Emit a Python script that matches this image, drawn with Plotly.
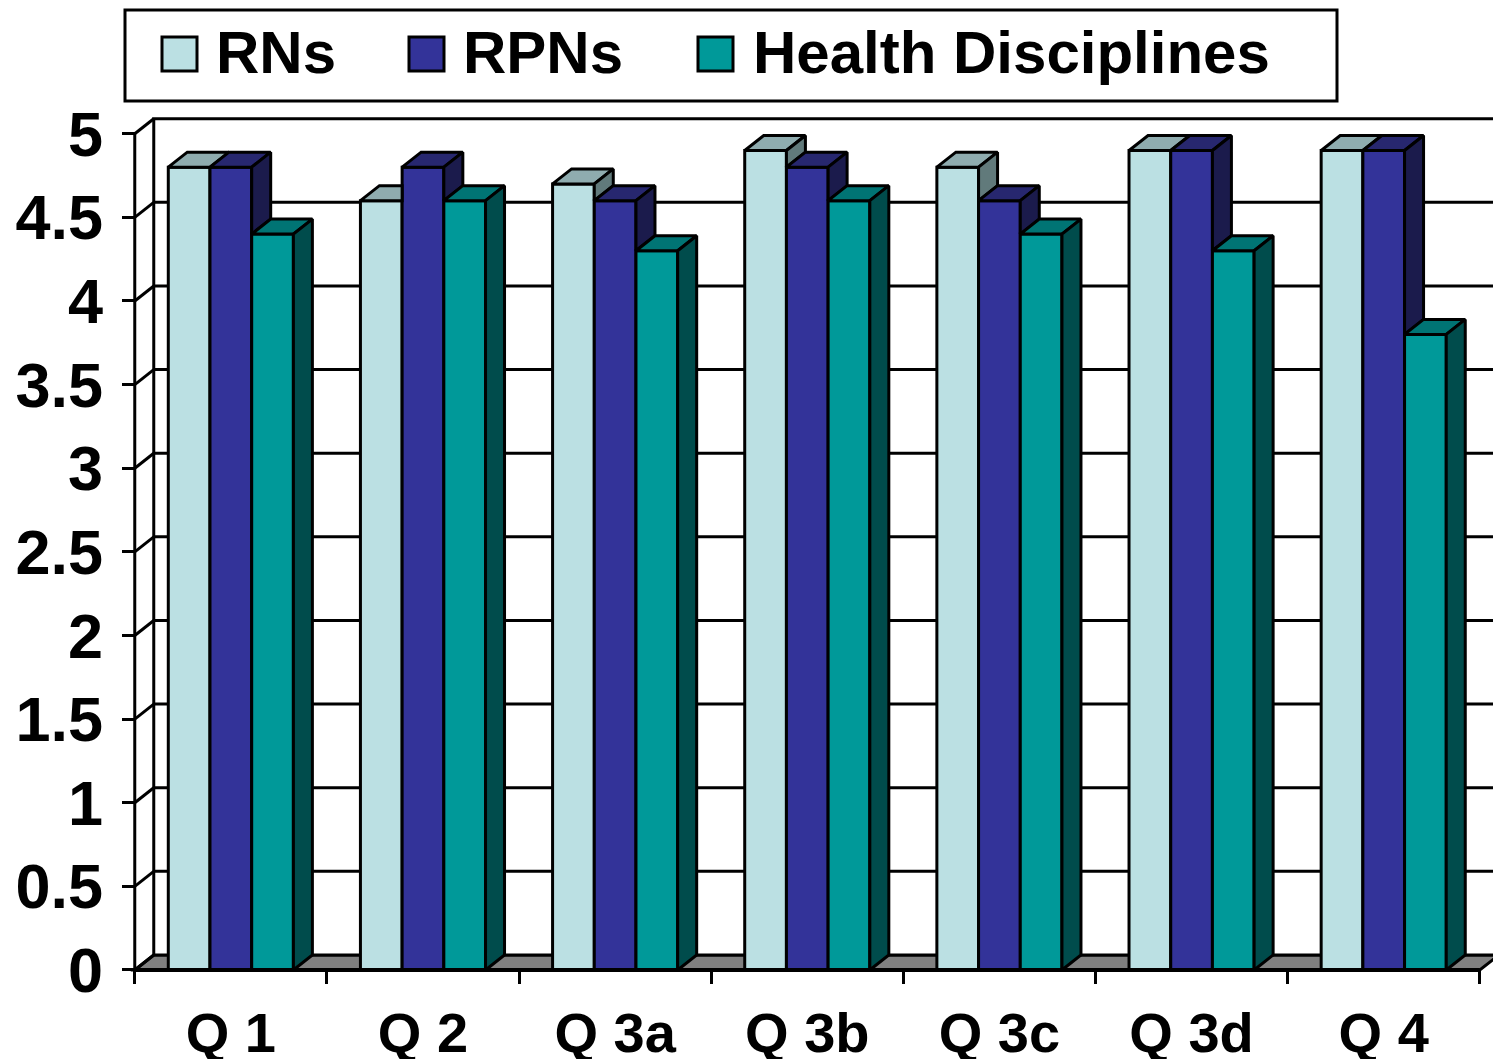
import plotly.graph_objects as go

# ---------------- data ----------------
categories = ["Q 1", "Q 2", "Q 3a", "Q 3b", "Q 3c", "Q 3d", "Q 4"]
series_names = ["RNs", "RPNs", "Health Disciplines"]
rns = [4.8, 4.6, 4.7, 4.9, 4.8, 4.9, 4.9]
rpns = [4.8, 4.8, 4.6, 4.8, 4.6, 4.9, 4.9]
health = [4.4, 4.6, 4.3, 4.6, 4.4, 4.3, 3.8]
y_ticks = [0, 0.5, 1, 1.5, 2, 2.5, 3, 3.5, 4, 4.5, 5]
y_tick_labels = ["0", "0.5", "1", "1.5", "2", "2.5", "3", "3.5", "4", "4.5", "5"]

# ---------------- styles ----------------
front_colors = ["#BBE0E3", "#333399", "#009999"]
top_colors = ["#8FACAF", "#27276F", "#007474"]
side_colors = ["#617A7B", "#1B1B4C", "#004C4C"]
FONT = "Liberation Sans, Arial, sans-serif"
LW = 3

OFF = 8  # page body margin
W, H = 1501 - OFF, 1059 - OFF
X_MIN, X_MAX = -0.03, 7.1
Y_MIN, Y_MAX = -0.03, 5.1
M_L, M_R, M_T, M_B = 121, 2, 109, 84
PW = W - M_L - M_R
PH = H - M_T - M_B
SX = PW / (X_MAX - X_MIN)
SY = PH / (Y_MAX - Y_MIN)
DX = 19 / SX          # depth offset (x units)
DY = 15 / SY          # depth offset (y units)
BW = 41.7 / SX        # bar width (x units)

n = len(categories)
series = [rns, rpns, health]


def paper_x(px):
    return (px - OFF - M_L) / PW


def paper_y(py):
    return (H - M_B - (py - OFF)) / PH


fig = go.Figure()

# front faces as bars
for k, (name, vals) in enumerate(zip(series_names, series)):
    fig.add_trace(go.Bar(
        x=[i + 0.5 + (k - 1) * BW for i in range(n)],
        y=vals, width=BW, base=0, name=name,
        marker=dict(color=front_colors[k], line=dict(color="black", width=LW)),
        hoverinfo="skip", showlegend=False,
    ))

# top and side faces (3D effect)
for i in range(n):
    for k in range(3):
        v = series[k][i]
        xl = i + 0.5 + (k - 1.5) * BW
        xr = xl + BW
        vn = series[k + 1][i] if k < 2 else None
        if vn is not None and vn > v:
            tx = [xl, xl + DX, xr, xr, xl]
        else:
            tx = [xl, xl + DX, xr + DX, xr, xl]
        ty = [v, v + DY, v + DY, v, v]
        fig.add_trace(go.Scatter(
            x=tx, y=ty, mode="lines", fill="toself", fillcolor=top_colors[k],
            line=dict(color="black", width=LW), hoverinfo="skip", showlegend=False))
        if vn is None or vn < v:
            lo = 0 if vn is None else vn
            sx = [xr, xr + DX, xr + DX, xr, xr]
            sy = [lo, lo + DY, v + DY, v, lo]
            fig.add_trace(go.Scatter(
                x=sx, y=sy, mode="lines", fill="toself", fillcolor=side_colors[k],
                line=dict(color="black", width=LW), hoverinfo="skip", showlegend=False))

# ---------------- walls, floor, gridlines (shapes below traces) ----------------
shapes = []
top_v = y_ticks[-1]
# floor
shapes.append(dict(type="path", xref="x", yref="y", layer="below",
                   path=f"M 0,0 L {n},0 L {n + DX},{DY} L {DX},{DY} Z",
                   fillcolor="#808080", line=dict(color="black", width=LW)))
# back wall
shapes.append(dict(type="rect", xref="x", yref="y", layer="below",
                   x0=DX, x1=n + DX, y0=DY, y1=top_v + DY,
                   fillcolor="white", line=dict(color="black", width=LW)))
# gridlines on back wall
for v in y_ticks[1:-1]:
    shapes.append(dict(type="line", xref="x", yref="y", layer="below",
                       x0=DX, x1=n + DX, y0=v + DY, y1=v + DY,
                       line=dict(color="black", width=LW)))
# left wall diagonals
for v in y_ticks:
    shapes.append(dict(type="line", xref="x", yref="y", layer="below",
                       x0=0, x1=DX, y0=v, y1=v + DY,
                       line=dict(color="black", width=LW)))
# front vertical axis
shapes.append(dict(type="line", xref="x", yref="y", layer="below",
                   x0=0, x1=0, y0=0, y1=top_v, line=dict(color="black", width=LW)))
# front horizontal axis
shapes.append(dict(type="line", xref="x", yref="y", layer="above",
                   x0=0, x1=n, y0=0, y1=0, line=dict(color="black", width=4)))

# ---------------- legend (manual) ----------------
shapes.append(dict(type="rect", xref="paper", yref="paper", layer="above",
                   x0=paper_x(125), x1=paper_x(1337), y0=paper_y(101), y1=paper_y(10),
                   fillcolor="white", line=dict(color="black", width=LW)))
swatch_x = [162, 409, 698]
text_x = [214, 461, 751]
annotations = []
for k, name in enumerate(series_names):
    shapes.append(dict(type="rect", xref="paper", yref="paper", layer="above",
                       x0=paper_x(swatch_x[k]), x1=paper_x(swatch_x[k] + 35),
                       y0=paper_y(71), y1=paper_y(37),
                       fillcolor=front_colors[k], line=dict(color="black", width=LW)))
    annotations.append(dict(xref="paper", yref="paper", x=paper_x(text_x[k]), y=paper_y(52),
                            xanchor="left", yanchor="middle", showarrow=False, text=name,
                            font=dict(family=FONT, size=60, color="black", weight=700)))

fig.update_layout(
    width=W, height=H,
    margin=dict(l=M_L, r=M_R, t=M_T, b=M_B),
    plot_bgcolor="white", paper_bgcolor="white",
    barmode="overlay", showlegend=False,
    font=dict(family=FONT, color="black"),
    shapes=shapes, annotations=annotations,
    xaxis=dict(
        range=[X_MIN, X_MAX], tickmode="array",
        tickvals=[i + 0.5 for i in range(n)], ticktext=categories,
        ticks="", showline=False, showgrid=False, zeroline=False,
        anchor="free", position=(-Y_MIN) * SY / PH, automargin=False,
        tickfont=dict(family=FONT, size=56, color="black", weight=700),
        ticklabelstandoff=25,
        minor=dict(tickmode="array", tickvals=list(range(n + 1)), ticks="outside",
                   ticklen=13, tickwidth=LW, tickcolor="black", showgrid=False),
    ),
    yaxis=dict(
        range=[Y_MIN, Y_MAX], tickmode="array", tickvals=y_ticks, ticktext=y_tick_labels,
        ticks="outside", ticklen=13, tickwidth=LW, tickcolor="black",
        showline=False, showgrid=False, zeroline=False,
        anchor="free", position=(-X_MIN) * SX / PW, automargin=False,
        tickfont=dict(family=FONT, size=63, color="black", weight=700),
        ticklabelstandoff=6,
    ),
)

fig.write_html("out.html")
